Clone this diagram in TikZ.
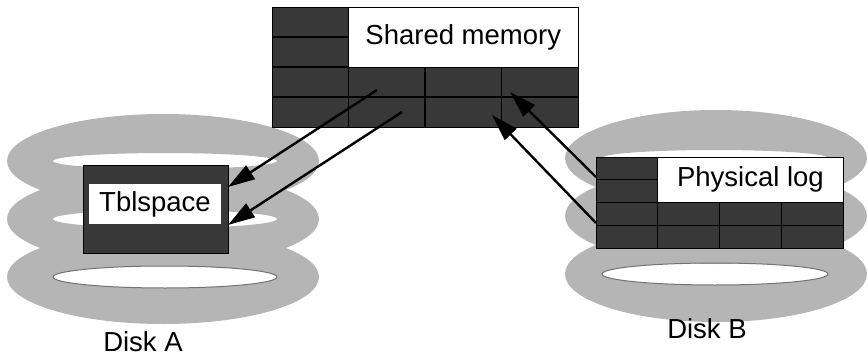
\documentclass[tikz,border=0pt]{standalone}
\usepackage{fontspec}
\setmainfont{Liberation Sans}
\usetikzlibrary{arrows.meta}
\tikzset{ring/.style={fill=black!29, even odd rule}}
\tikzset{darkbox/.style={draw=black, line width=1pt, fill=black!78, inner sep=0pt}}
\tikzset{whitebox/.style={draw=black, line width=1pt, fill=white, inner sep=0pt,
      font=\fontsize{27.5}{33}\selectfont}}
\tikzset{gridline/.style={black, line width=1.2pt}}
\tikzset{copy/.style={line width=2.4pt, -{Triangle[length=27pt,width=16pt]}}}
\tikzset{disklabel/.style={font=\fontsize{27.5}{33}\selectfont}}

\begin{document}
\begin{tikzpicture}[x=1pt,y=-1pt]
		\useasboundingbox (0,0) rectangle (868,356);
		% the two disks, three platters each
		\foreach \cy/\hy in {161/8, 219/9, 277/11}{
			\fill[ring] (163,\cy) ellipse [x radius=156, y radius=47] (165,\cy) ellipse [x radius=112, y radius=\hy];
			\fill[ring] (716,\cy-3) ellipse [x radius=151, y radius=48] (715,\cy-3) ellipse [x radius=113, y radius=\hy];
		}
		\draw[black!55, line width=1pt] (165,277) ellipse [x radius=112, y radius=11];
		\draw[black!55, line width=1pt] (715,274) ellipse [x radius=113, y radius=11];
		% shared memory, 4x4 pages
		\node[darkbox, minimum width=306pt, minimum height=120pt] (shm) at (425,67) {};
		\foreach \i in {1,2,3}{
			\draw[gridline] (272+76.5*\i,7) -- (272+76.5*\i,127);
			\draw[gridline] (272,7+30*\i) -- (578,7+30*\i);
		}
		\node[whitebox, minimum width=229.5pt, minimum height=60pt] (shmlabel) at (463.25,37) {Shared memory};
		% tblspace on disk A
		\node[darkbox, minimum width=145pt, minimum height=88pt] (tbl) at (155.5,209) {};
		\node[whitebox, draw=none, minimum width=132pt, minimum height=40pt] (tbllabel) at (155,204) {Tblspace};
		% physical log on disk B
		\node[darkbox, minimum width=247pt, minimum height=91pt] (plog) at (719.5,202.5) {};
		\foreach \i in {1,2,3}{
			\draw[gridline] (596+61.75*\i,157) -- (596+61.75*\i,248);
			\draw[gridline] (596,157+22.75*\i) -- (843,157+22.75*\i);
		}
		\node[whitebox, minimum width=185.25pt, minimum height=45.5pt] (ploglabel) at (750.4,179.75) {Physical log};
		\node[disklabel] (diska) at (143,342) {Disk A};
		\node[disklabel] (diskb) at (707,329) {Disk B};
		% pages copied between memory and disk
		\coordinate (shm1) at (377,90);
		\coordinate (shm2) at (402,112);
		\coordinate (shm3) at (510,92);
		\coordinate (shm4) at (492,115);
		\coordinate (tbl1) at (228,187);
		\coordinate (tbl2) at (228,225);
		\coordinate (plog1) at (596,177);
		\coordinate (plog2) at (596,223);
		\draw[copy] (shm1) -- (tbl1);
		\draw[copy] (shm2) -- (tbl2);
		\draw[copy] (plog1) -- (shm3);
		\draw[copy] (plog2) -- (shm4);
\end{tikzpicture}
\end{document}
